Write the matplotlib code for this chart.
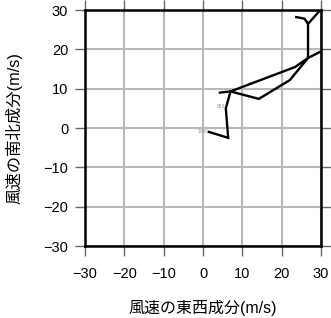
import matplotlib
matplotlib.use("Agg")
import matplotlib.pyplot as plt
import numpy as np

plt.rcParams['font.family'] = ['Liberation Sans', 'Noto Sans CJK JP']
plt.rcParams['axes.unicode_minus'] = True

# path 1 (u, v in m/s)
u1 = [1.5, 6.4, 5.8, 7.0, 23.4, 26.7, 26.7, 25.8, 23.7]
v1 = [-1.0, -2.5, 5.0, 9.3, 15.5, 17.8, 26.5, 27.8, 28.2]
# path 2
u2 = [4.3, 7.0, 14.2, 22.1, 26.7, 33.0, 33.0, 26.7]
v2 = [9.0, 9.3, 7.4, 12.2, 17.8, 21.0, 33.5, 26.5]

label_text = ["1000", "850"]
label_u = [1.4, 5.6]
label_v = [-1.0, 5.4]

ticks = [-30, -20, -10, 0, 10, 20, 30]

fig = plt.figure(figsize=(3.31, 3.18), dpi=100)
ax = fig.add_axes([85/331, 1-246/318, 236/331, 236/318])
ax.set_xlim(-30, 30)
ax.set_ylim(-30, 30)
ax.set_xticks(ticks)
ax.set_yticks(ticks)
ax.grid(True, color='#b8b8b8', linewidth=1.5)
ax.set_axisbelow(True)
for s in ax.spines.values():
    s.set_linewidth(1.8)
    s.set_color('black')
ax.tick_params(axis='both', which='both', direction='out', length=7, width=1.0,
               color='#666666', top=True, right=True, labelsize=10.5)
ax.tick_params(axis='x', pad=8)
ax.tick_params(axis='y', pad=5)

ax.plot(u1, v1, color='black', linewidth=1.7, solid_joinstyle='miter')
ax.plot(u2, v2, color='black', linewidth=1.7, solid_joinstyle='miter')
for t, x, y in zip(label_text, label_u, label_v):
    ax.text(x, y, t, fontsize=3.5, color='#999999', ha='right', va='center')

ax.set_xlabel('風速の東西成分(m/s)', fontsize=11.5, labelpad=14)
ax.set_ylabel('風速の南北成分(m/s)', fontsize=11.8, labelpad=15)

fig.savefig('out.png', dpi=100)
